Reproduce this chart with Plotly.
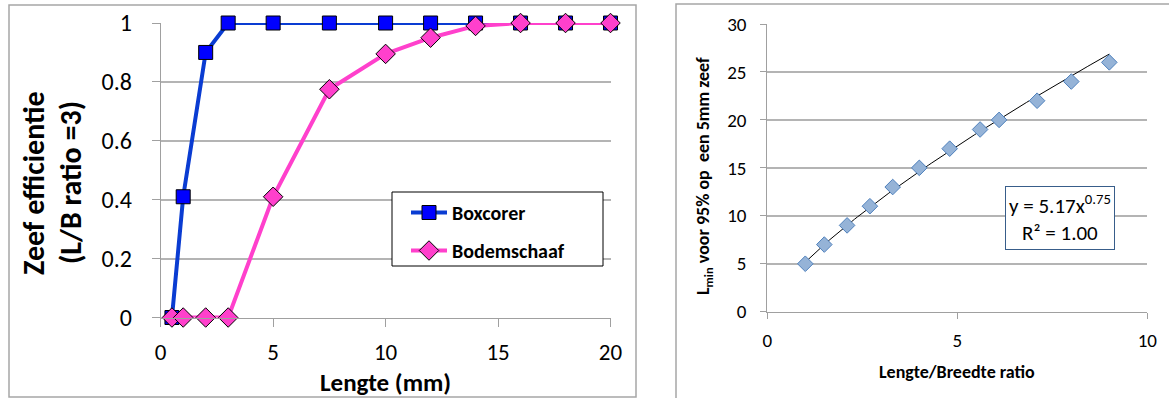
import plotly.graph_objects as go
import numpy as np

# ---- data ----
lengte = [0.5, 1, 2, 3, 5, 7.5, 10, 12, 14, 16, 18, 20]
boxcorer = [0, 0.41, 0.9, 1, 1, 1, 1, 1, 1, 1, 1, 1]
bodemschaaf = [0, 0, 0, 0, 0.41, 0.775, 0.895, 0.95, 0.99, 1, 1, 1]

ratio = [1, 1.5, 2.1, 2.7, 3.3, 4, 4.8, 5.6, 6.1, 7.1, 8, 9]
lmin = [5, 7, 9, 11, 13, 15, 17, 19, 20, 22, 24, 26]
fit_a, fit_b = 5.17, 0.75   # power trendline shown in the chart

W, H = 1169, 398
FONT = "Carlito, Lato, 'Open Sans', sans-serif"
GRID = "#b4b4b4"
AX = "#a0a0a0"


def px(x):
    return x / W


def py(y):
    return 1 - y / H


fig = go.Figure()

fig.add_trace(go.Scatter(
    x=lengte, y=boxcorer, name="Boxcorer", mode="lines+markers", legendgroup="a",
    line=dict(color="#0a3cd2", width=4),
    marker=dict(symbol="square", size=14, color="#0000ff", line=dict(color="black", width=1)),
    cliponaxis=False, xaxis="x", yaxis="y"))
fig.add_trace(go.Scatter(
    x=lengte, y=bodemschaaf, name="Bodemschaaf", mode="lines+markers", legendgroup="b",
    line=dict(color="#ff40cc", width=4),
    marker=dict(symbol="diamond", size=15, color="#ff40cc", line=dict(color="black", width=1)),
    cliponaxis=False, xaxis="x", yaxis="y"))

xfit = np.linspace(min(ratio), max(ratio), 100)
fig.add_trace(go.Scatter(
    x=xfit, y=fit_a * xfit ** fit_b, mode="lines", showlegend=False,
    line=dict(color="black", width=1), xaxis="x2", yaxis="y2", hoverinfo="skip"))
fig.add_trace(go.Scatter(
    x=ratio, y=lmin, mode="markers", showlegend=False,
    marker=dict(symbol="diamond", size=12, color="#95b3d7", line=dict(color="#4f81bd", width=1)),
    cliponaxis=False, xaxis="x2", yaxis="y2"))

common_ax = dict(showline=True, linecolor=AX, linewidth=1, ticks="outside",
                 tickcolor=AX, zeroline=False, fixedrange=True, automargin=False)

fig.update_layout(
    width=W, height=H, margin=dict(l=0, r=0, t=0, b=0, autoexpand=False),
    paper_bgcolor="white", plot_bgcolor="white",
    font=dict(family=FONT, color="black"),
    xaxis=dict(domain=[px(160.7), px(610.5)], range=[0, 20], tickvals=[0, 5, 10, 15, 20],
               showgrid=False, ticklen=8, tickfont=dict(size=23), ticklabelstandoff=6,
               anchor="y", **common_ax),
    yaxis=dict(domain=[py(317.5), py(23)], range=[0, 1], tickvals=[0, 0.2, 0.4, 0.6, 0.8, 1],
               showgrid=True, gridcolor=GRID, gridwidth=1.5, ticklen=8, tickfont=dict(size=24),
               ticklabelstandoff=15, anchor="x", **common_ax),
    xaxis2=dict(domain=[px(767.3), px(1147.3)], range=[0, 10], tickvals=[0, 5, 10],
                showgrid=False, ticklen=6, tickfont=dict(size=19), ticklabelstandoff=5,
                anchor="y2", **common_ax),
    yaxis2=dict(domain=[py(311.7), py(24)], range=[0, 30], tickvals=[0, 5, 10, 15, 20, 25, 30],
                showgrid=True, gridcolor=GRID, gridwidth=1.5, ticklen=6, tickfont=dict(size=19),
                ticklabelstandoff=10, anchor="x2", **common_ax),
    legend=dict(x=px(406), y=py(193), xanchor="left", yanchor="top",
                borderwidth=0, bgcolor="rgba(0,0,0,0)",
                font=dict(size=20, family=FONT, weight="bold"),
                tracegroupgap=9, itemwidth=36),
    showlegend=True,
)

shapes = [
    dict(type="rect", xref="paper", yref="paper", x0=px(9), x1=px(636), y0=py(397), y1=py(5),
         line=dict(color="#a6a6a6", width=1.5)),
    dict(type="rect", xref="paper", yref="paper", x0=px(676), x1=px(1180), y0=py(410), y1=py(4),
         line=dict(color="#a6a6a6", width=1.5)),
    dict(type="rect", xref="paper", yref="paper", x0=px(392), x1=px(603), y0=py(266), y1=py(192),
         line=dict(color="black", width=1), fillcolor="white", layer="above"),
]
fig.update_layout(shapes=shapes)

ann = [
    dict(text="<b>Zeef efficientie</b>", x=px(33), y=py(183), textangle=-90,
         font=dict(size=30)),
    dict(text="<b>(L/B ratio =3)</b>", x=px(70), y=py(183), textangle=-90,
         font=dict(size=30)),
    dict(text="<b>Lengte (mm)</b>", x=px(385), y=py(382), font=dict(size=25)),
    dict(text="<b>L<sub>min</sub> voor 95% op  een 5mm zeef</b>", x=px(704), y=py(176),
         textangle=-90, font=dict(size=18)),
    dict(text="<b>Lengte/Breedte ratio</b>", x=px(957), y=py(372), font=dict(size=18)),
    dict(text="y = 5.17x<sup>0.75</sup><br>R² = 1.00", x=px(1059.5), y=py(218),
         font=dict(size=21), bordercolor="#385d8a", borderwidth=1, bgcolor="white",
         borderpad=3, align="center"),
]
for a in ann:
    a.update(xref="paper", yref="paper", showarrow=False, xanchor="center", yanchor="middle")
fig.update_layout(annotations=ann)

fig.write_html("out.html")
